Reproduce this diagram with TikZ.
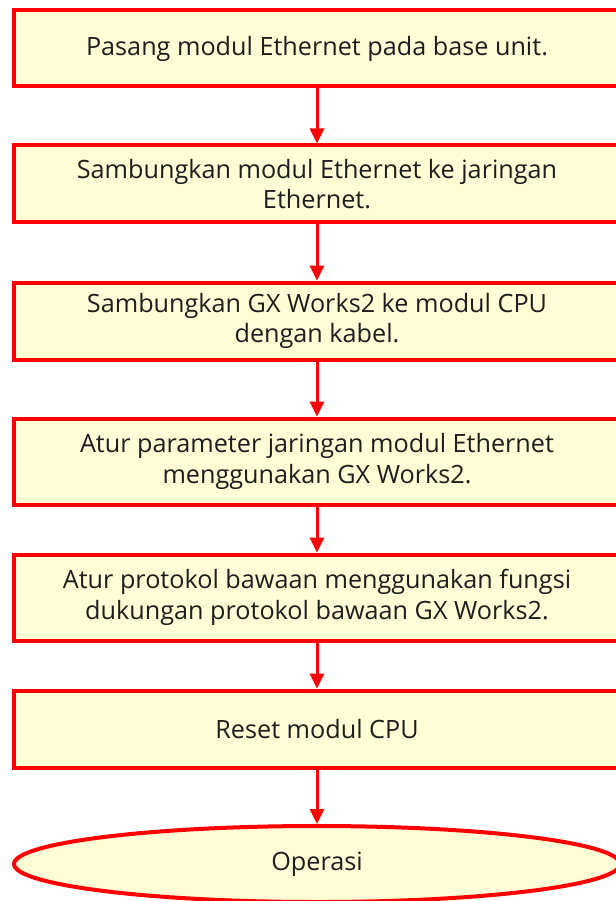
\documentclass[tikz,border=0pt]{standalone}
\usepackage{fontspec}
\setmainfont{Open Sans}
\usetikzlibrary{shapes.geometric,arrows.meta}
\definecolor{boxfill}{RGB}{255,252,214}
\definecolor{boxline}{RGB}{255,0,0}
\definecolor{txt}{RGB}{30,30,30}
\begin{document}
\begin{tikzpicture}[x=1pt,y=-1pt,
  stepbox/.style={draw=boxline, line width=4pt, fill=boxfill, rectangle,
    minimum width=606pt, inner sep=0pt, text=txt, align=center,
    font=\fontsize{25.2}{30.5}\selectfont},
  endbox/.style={draw=boxline, line width=4pt, fill=boxfill, ellipse,
    minimum width=606pt, minimum height=76pt, inner sep=0pt, text=txt,
    font=\fontsize{25.2}{30.5}\selectfont},
  flow/.style={draw=boxline, line width=3pt, -{Triangle[length=15pt,width=14pt]}}]
\useasboundingbox (0,0) rectangle (615,901);
\node[stepbox, minimum height=76pt] (b1) at (317,48.5) {Pasang modul Ethernet pada base unit.};
\node[stepbox, minimum height=77pt] (b2) at (317,184) {Sambungkan modul Ethernet ke jaringan\\Ethernet.};
\node[stepbox, minimum height=77pt] (b3) at (317,321) {Sambungkan GX Works2 ke modul CPU\\dengan kabel.};
\node[stepbox, minimum height=86pt] (b4) at (317,461.5) {Atur parameter jaringan modul Ethernet\\menggunakan GX Works2.};
\node[stepbox, minimum height=86pt] (b5) at (317,597.5) {Atur protokol bawaan menggunakan fungsi\\dukungan protokol bawaan GX Works2.};
\node[stepbox, minimum height=77pt] (b6) at (317,729) {Reset modul CPU};
\node[endbox] (b7) at (317,864) {Operasi};
\draw[flow] (b1.south) -- (b2.north);
\draw[flow] (b2.south) -- (b3.north);
\draw[flow] (b3.south) -- (b4.north);
\draw[flow] (b4.south) -- (b5.north);
\draw[flow] (b5.south) -- (b6.north);
\draw[flow] (b6.south) -- (b7.north);
\end{tikzpicture}
\end{document}
